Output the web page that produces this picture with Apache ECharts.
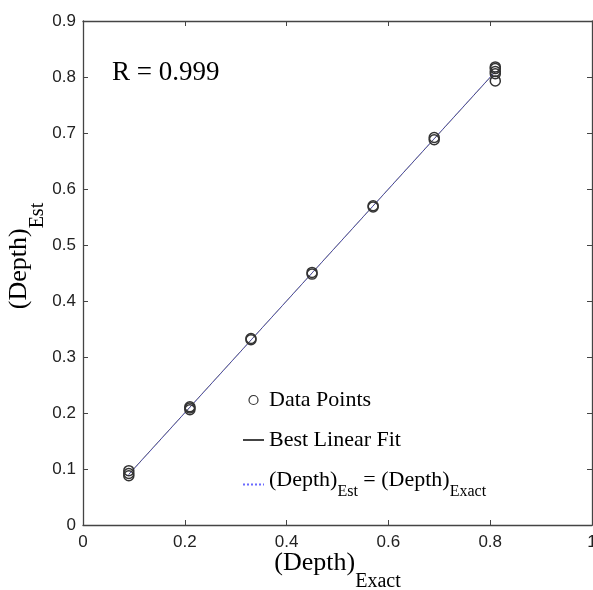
<!DOCTYPE html>
<html>
<head>
<meta charset="utf-8">
<script src="https://cdn.jsdelivr.net/npm/echarts@6/dist/echarts.min.js"></script>
<style>
  html, body { margin: 0; padding: 0; background: #fff; }
  #depthChart { width: 593px; height: 590px; }
</style>
</head>
<body>
<div id="depthChart"></div>
<script>
// exact depth of each sample and the estimated depths
var exactX = [0.09, 0.09, 0.09, 0.21, 0.21, 0.21, 0.33, 0.33, 0.45, 0.45,
              0.57, 0.57, 0.69, 0.69, 0.81, 0.81, 0.81, 0.81, 0.81];
var estY   = [0.088, 0.092, 0.097, 0.206, 0.209, 0.211, 0.331, 0.333, 0.448, 0.451,
              0.568, 0.570, 0.688, 0.692, 0.793, 0.806, 0.810, 0.815, 0.818];
var fitX = [0.09, 0.81];
var fitY = [0.0905, 0.8095];
var idealX = [0.09, 0.81];
var idealY = [0.09, 0.81];
var rText = 'R = 0.999';

var pts = [];
for (var i = 0; i < exactX.length; i++) {
  pts.push([exactX[i], estY[i]]);
}
var fit = [];
for (var i = 0; i < fitX.length; i++) {
  fit.push([fitX[i], fitY[i]]);
}
var ideal = [];
for (var i = 0; i < idealX.length; i++) {
  ideal.push([idealX[i], idealY[i]]);
}

var serif = '"Liberation Serif", "DejaVu Serif", serif';
var sans = '"Liberation Sans", Arial, sans-serif';
var nameRich = {
  b: { fontFamily: serif, fontSize: 26, color: '#000', verticalAlign: 'top' },
  s: { fontFamily: serif, fontSize: 20, color: '#000', verticalAlign: 'top', padding: [22, 0, 0, 0] }
};
var legRich = {
  b: { fontFamily: serif, fontSize: 22, color: '#000', verticalAlign: 'top' },
  s: { fontFamily: serif, fontSize: 16, color: '#000', verticalAlign: 'top', padding: [15, 0, 0, 0] }
};

var axisLine = { show: true, onZero: false, lineStyle: { color: '#444', width: 1.3 } };
var axisTick = { show: true, inside: true, length: 5, lineStyle: { color: '#444' } };

var option = {
  animation: false,
  backgroundColor: '#fff',
  grid: { left: 83, right: 1, top: 21, bottom: 65, containLabel: false, outerBoundsMode: 'none' },
  legend: {
    orient: 'vertical',
    left: 237,
    top: 384,
    itemGap: 18,
    itemWidth: 21,
    itemHeight: 9,
    data: [
      { name: 'Data Points', icon: 'circle',
        itemStyle: { color: 'rgba(0,0,0,0)', borderColor: '#333', borderWidth: 1.2 } },
      { name: 'Best Linear Fit', itemStyle: { opacity: 0 } },
      { name: 'ideal', itemStyle: { opacity: 0 } }
    ],
    formatter: function (name) {
      if (name === 'ideal') {
        return '{b|(Depth)}{s|Est}{b| = (Depth)}{s|Exact}';
      }
      return '{b|' + name + '}';
    },
    textStyle: { rich: legRich }
  },
  xAxis: [{
    type: 'value', min: 0, max: 1, interval: 0.2,
    name: '{b|(Depth)}{s|Exact}',
    nameLocation: 'middle', nameGap: 25, nameMoveOverlap: false,
    nameTextStyle: { rich: nameRich },
    axisLine: axisLine, axisTick: axisTick,
    axisLabel: { fontFamily: sans, fontSize: 17, color: '#222', margin: 9 },
    splitLine: { show: false }
  }, {
    type: 'value', min: 0, max: 1, interval: 0.2, position: 'top',
    axisLine: axisLine, axisTick: axisTick,
    axisLabel: { show: false }, splitLine: { show: false }
  }],
  yAxis: [{
    type: 'value', min: 0, max: 0.9, interval: 0.1,
    name: '{b|(Depth)}{s|Est}',
    nameLocation: 'middle', nameGap: 35, nameRotate: 90, nameMoveOverlap: false,
    nameTextStyle: { rich: nameRich, padding: [0, 0, 0, 34] },
    axisLine: axisLine, axisTick: axisTick,
    axisLabel: { fontFamily: sans, fontSize: 17, color: '#222', margin: 7,
      formatter: function (v) { return v === 0 ? '0' : v.toFixed(1); } },
    splitLine: { show: false }
  }, {
    type: 'value', min: 0, max: 0.9, interval: 0.1, position: 'right',
    axisLine: axisLine, axisTick: axisTick,
    axisLabel: { show: false }, splitLine: { show: false }
  }],
  graphic: [{
    type: 'text', left: 112, top: 59,
    style: { text: rText, font: '27px ' + serif, fill: '#000' }
  }],
  series: [{
    name: 'Best Linear Fit',
    type: 'line',
    data: fit,
    symbol: 'none',
    lineStyle: { color: '#444', width: 1 },
    itemStyle: { color: '#444' },
    z: 2
  }, {
    name: 'ideal',
    type: 'line',
    data: ideal,
    symbol: 'none',
    lineStyle: { color: '#6a6aff', width: 1, type: 'dotted' },
    itemStyle: { color: '#6a6aff' },
    z: 3
  }, {
    name: 'Data Points',
    type: 'scatter',
    data: pts,
    symbol: 'circle',
    symbolSize: 10,
    itemStyle: { color: 'rgba(0,0,0,0)', borderColor: '#333', borderWidth: 1.5, opacity: 1 },
    z: 4
  }]
};

var myChart = echarts.init(document.getElementById('depthChart'));
myChart.setOption(option);
</script>
</body>
</html>
